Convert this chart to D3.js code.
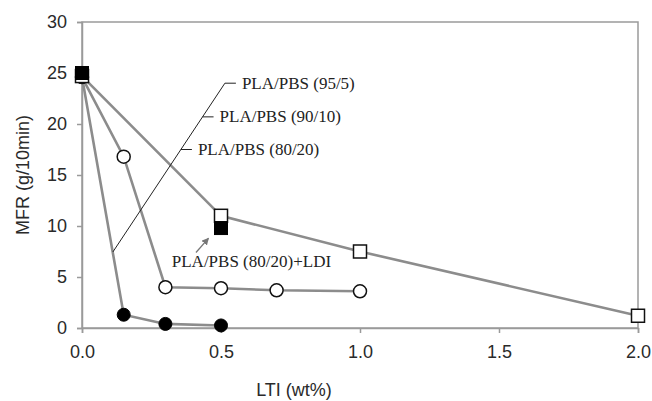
<!DOCTYPE html>
<html>
<head>
<meta charset="utf-8">
<script src="https://cdn.jsdelivr.net/npm/d3@7"></script>
<style>
  body { margin: 0; background: #fff; }
  svg { display: block; }
</style>
</head>
<body>
<div id="chart"></div>
<script>
// LTI content (wt%) and MFR (g/10min) for each blend
const lti9505 = [0, 0.5, 1.0, 2.0];
const mfr9505 = [24.7, 11.0, 7.5, 1.2];

const lti9010 = [0, 0.15, 0.3, 0.5, 0.7, 1.0];
const mfr9010 = [24.6, 16.8, 4.0, 3.9, 3.7, 3.6];

const lti8020 = [0, 0.15, 0.3, 0.5];
const mfr8020 = [24.6, 1.3, 0.4, 0.25];

const ltiLdi = [0, 0.5];
const mfrLdi = [25.0, 9.8];

const xTicks = [0, 0.5, 1.0, 1.5, 2.0];
const yTicks = [0, 5, 10, 15, 20, 25, 30];

// annotation labels, anchored in data units
const labelNames = ["PLA/PBS (95/5)", "PLA/PBS (90/10)", "PLA/PBS (80/20)"];
const labelY = [24.0, 20.7, 17.5];

const W = 652, H = 401;
const m = {left: 82, right: 14, top: 22, bottom: 73};

const x = d3.scaleLinear().domain([0, 2]).range([m.left, W - m.right]);
const y = d3.scaleLinear().domain([0, 30]).range([H - m.bottom, m.top]);

const svg = d3.select("#chart").append("svg")
      .attr("width", W)
      .attr("height", H);

const axisCol = "#9a9a9a";
const lineCol = "#8c8c8c";
const textCol = "#2a2a2a";
const sans = "'Liberation Sans', Arial, sans-serif";
const serif = "'Liberation Serif', 'Times New Roman', serif";

// frame
svg.append("rect")
      .attr("x", x(0)).attr("y", y(30))
      .attr("width", x(2) - x(0)).attr("height", y(0) - y(30))
      .attr("fill", "none").attr("stroke", axisCol).attr("stroke-width", 1.5);

const xAxis = svg.append("g")
      .attr("transform", "translate(0," + y(0) + ")")
      .call(d3.axisBottom(x).tickValues(xTicks).tickFormat(d3.format(".1f")).tickSize(5).tickPadding(12));
const yAxis = svg.append("g")
      .attr("transform", "translate(" + x(0) + ",0)")
      .call(d3.axisLeft(y).tickValues(yTicks).tickSize(5).tickPadding(10));

[xAxis, yAxis].forEach(g => {
      g.select(".domain").attr("stroke", axisCol).attr("stroke-width", 1.5);
      g.selectAll(".tick line").attr("stroke", axisCol).attr("stroke-width", 1.5);
      g.selectAll(".tick text")
            .attr("fill", textCol)
            .style("font-family", sans)
            .style("font-size", "18px");
});

svg.append("text")
      .attr("x", 294).attr("y", 396)
      .attr("text-anchor", "middle")
      .attr("fill", textCol)
      .style("font-family", sans)
      .style("font-size", "18px")
      .text("LTI (wt%)");

svg.append("text")
      .attr("transform", "translate(29," + ((y(0) + y(30)) / 2) + ") rotate(-90)")
      .attr("text-anchor", "middle")
      .attr("fill", textCol)
      .style("font-family", sans)
      .style("font-size", "18px")
      .text("MFR (g/10min)");

// series lines
const line = d3.line().x(d => x(d[0])).y(d => y(d[1]));
[[lti9505, mfr9505], [lti9010, mfr9010], [lti8020, mfr8020]].forEach(s => {
      svg.append("path")
            .datum(d3.zip(s[0], s[1]))
            .attr("fill", "none")
            .attr("stroke", lineCol)
            .attr("stroke-width", 2.6)
            .attr("d", line);
});

// leader line for the three labels
const lead = [[0.111, 7.45], [0.514, 24.0]];
svg.append("path")
      .datum(lead)
      .attr("fill", "none").attr("stroke", "#222").attr("stroke-width", 1)
      .attr("d", line);
const leadX = v => lead[0][0] + (v - lead[0][1]) * (lead[1][0] - lead[0][0]) / (lead[1][1] - lead[0][1]);
labelNames.forEach((t, i) => {
      const px = x(leadX(labelY[i]));
      const py = y(labelY[i]);
      svg.append("line")
            .attr("x1", px).attr("x2", px + 11)
            .attr("y1", py).attr("y2", py)
            .attr("stroke", "#222").attr("stroke-width", 1);
      svg.append("text")
            .attr("x", px + 17).attr("y", py + 5.5)
            .attr("fill", "#222")
            .style("font-family", serif)
            .style("font-size", "17px")
            .text(t);
});

// markers
const sq = 13, r = 6.5;
svg.append("g").selectAll("circle")
      .data(d3.zip(lti8020, mfr8020)).join("circle")
      .attr("cx", d => x(d[0])).attr("cy", d => y(d[1])).attr("r", r)
      .attr("fill", "#000").attr("stroke", "#000");
svg.append("g").selectAll("circle")
      .data(d3.zip(lti9010, mfr9010)).join("circle")
      .attr("cx", d => x(d[0])).attr("cy", d => y(d[1])).attr("r", r)
      .attr("fill", "#fff").attr("stroke", "#111").attr("stroke-width", 1.5);
svg.append("g").selectAll("rect")
      .data(d3.zip(lti9505, mfr9505)).join("rect")
      .attr("x", d => x(d[0]) - sq / 2).attr("y", d => y(d[1]) - sq / 2)
      .attr("width", sq).attr("height", sq)
      .attr("fill", "#fff").attr("stroke", "#111").attr("stroke-width", 1.5);
svg.append("g").selectAll("rect")
      .data(d3.zip(ltiLdi, mfrLdi)).join("rect")
      .attr("x", d => x(d[0]) - sq / 2).attr("y", d => y(d[1]) - sq / 2)
      .attr("width", sq).attr("height", sq)
      .attr("fill", "#000").attr("stroke", "#000");

// LDI label with small arrow
svg.append("defs").append("marker")
      .attr("id", "arr").attr("viewBox", "0 0 10 10")
      .attr("refX", 9).attr("refY", 5)
      .attr("markerWidth", 6).attr("markerHeight", 6)
      .attr("orient", "auto")
      .append("path").attr("d", "M0,0L10,5L0,10z").attr("fill", "#777");
svg.append("line")
      .attr("x1", x(0.41)).attr("y1", y(7.4))
      .attr("x2", x(0.455)).attr("y2", y(8.8))
      .attr("stroke", "#777").attr("stroke-width", 1.2)
      .attr("marker-end", "url(#arr)");
svg.append("text")
      .attr("x", x(0.323)).attr("y", y(6.0))
      .attr("fill", "#222")
      .style("font-family", serif)
      .style("font-size", "17px")
      .text("PLA/PBS (80/20)+LDI");
</script>
</body>
</html>
